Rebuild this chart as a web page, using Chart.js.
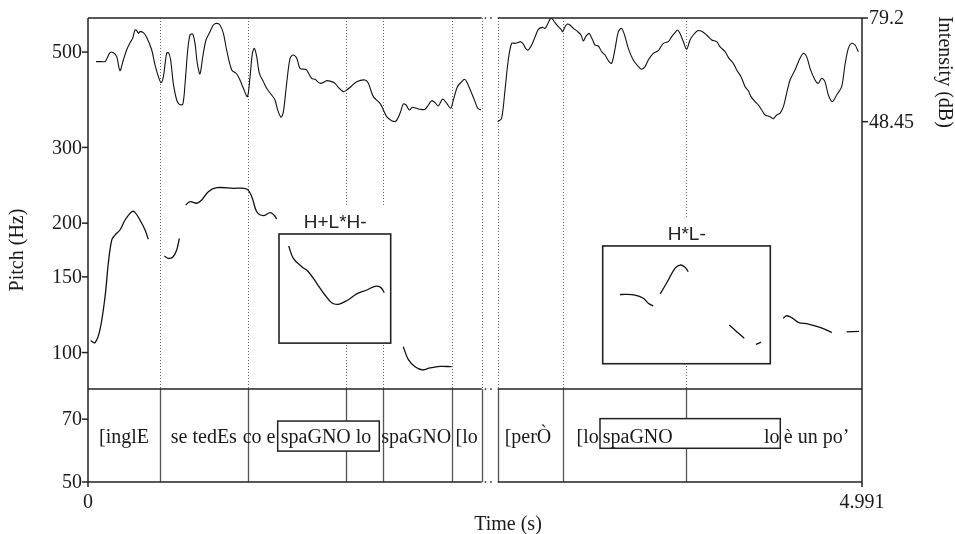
<!DOCTYPE html>
<html>
<head>
<meta charset="utf-8">
<script src="https://cdn.jsdelivr.net/npm/chart.js@4.4.1/dist/chart.umd.min.js"></script>
<style>
  html, body { margin: 0; padding: 0; background: #fff; }
</style>
</head>
<body>
<canvas id="chart" width="955" height="534"></canvas>
<script>
// Pitch track (s, Hz); null separates voiced stretches
const pitchTime = [
  0.017, 0.045, 0.077, 0.110, 0.131, 0.153, 0.174, 0.206, 0.239, 0.282, 0.303, 0.335, 0.368, 0.389, null,
  0.492, 0.518, 0.546, 0.572, 0.589, null,
  0.630, 0.658, 0.701, 0.733, 0.776, 0.830, 0.937, 1.023, 1.056, 1.088, 1.130, 1.174, 1.199, 1.217, null,
  1.294, 1.324, 1.378, 1.421, 1.475, 1.528, 1.571, 1.614, 1.668, 1.733, 1.797, 1.851, 1.887, 1.911, null,
  2.033, 2.065, 2.109, 2.158, 2.205, 2.270, 2.345, null,
  3.430, 3.463, 3.527, 3.581, 3.613, 3.645, null,
  3.690, 3.742, 3.785, 3.817, 3.850, 3.871, null,
  4.135, 4.183, 4.232, null,
  4.307, 4.340, null,
  4.483, 4.505, 4.538, 4.580, 4.645, 4.720, 4.796, null,
  4.892, 4.972
];
const pitchHz = [
  106.6, 105.4, 112.9, 134.9, 161.3, 182.7, 187.6, 192.8, 203.4, 212.6, 211.9, 203.4, 192.8, 183.4, null,
  167.7, 165.6, 166.6, 173.2, 184.4, null,
  220.5, 224.4, 222.5, 226.4, 236.7, 241.8, 241.0, 240.1, 230.4, 212.6, 208.2, 211.5, 208.9, 204.5, null,
  177.0, 165.6, 158.4, 154.2, 144.9, 136.1, 130.6, 129.5, 132.0, 136.9, 139.8, 142.6, 141.8, 137.8, null,
  103.2, 96.4, 92.7, 91.1, 92.1, 92.9, 92.7, null,
  136.4, 136.6, 136.1, 133.8, 130.2, 128.3, null,
  136.9, 147.5, 157.0, 159.8, 157.9, 154.2, null,
  115.9, 111.8, 107.9, null,
  104.5, 105.7, null,
  120.2, 121.8, 120.6, 117.6, 116.5, 114.5, 111.3, null,
  111.7, 112.0
];

// Intensity contour (s, dB)
const intensityTime = [
  0.052, 0.088, 0.110, 0.120, 0.142, 0.163, 0.185, 0.206, 0.228, 0.249, 0.271, 0.288, 0.303, 0.314, 0.325, 0.335,
  0.357, 0.378, 0.411, 0.432, 0.454, 0.471, 0.486, 0.507, 0.520, 0.533, 0.550, 0.572, 0.589, 0.611, 0.626, 0.643,
  0.658, 0.675, 0.690, 0.705, 0.722, 0.740, 0.761, 0.787, 0.808, 0.830, 0.851, 0.873, 0.894, 0.927, 0.959, 0.980,
  1.002, 1.028, 1.045, 1.060, 1.073, 1.088, 1.105, 1.131, 1.152, 1.184, 1.206, 1.223, 1.245, 1.260, 1.281, 1.303,
  1.324, 1.346, 1.367, 1.399, 1.410, 1.442, 1.464, 1.496, 1.528, 1.539, 1.571, 1.593, 1.614, 1.647, 1.668, 1.700,
  1.733, 1.786, 1.808, 1.840, 1.883, 1.905, 1.926, 1.958, 1.986, 2.012, 2.033, 2.051, 2.072, 2.092, 2.119, 2.141,
  2.173, 2.195, 2.216, 2.238, 2.259, 2.287, 2.313, 2.339, 2.356, 2.382, 2.410, 2.427, 2.442, 2.474, 2.496, 2.513,
  2.534, null,
  2.642, 2.667, 2.689, 2.710, 2.732, 2.753, 2.771, 2.790, 2.807, 2.822, 2.839, 2.861, 2.882, 2.904, 2.930, 2.947,
  2.964, 2.979, 2.990, 3.011, 3.033, 3.050, 3.061, 3.076, 3.091, 3.108, 3.130, 3.158, 3.179, 3.194, 3.209, 3.231,
  3.244, 3.259, 3.269, 3.291, 3.312, 3.334, 3.360, 3.377, 3.398, 3.420, 3.441, 3.463, 3.484, 3.516, 3.549, 3.570,
  3.592, 3.613, 3.645, 3.678, 3.710, 3.742, 3.764, 3.785, 3.802, 3.817, 3.839, 3.860, 3.882, 3.903, 3.931, 3.957,
  3.989, 4.022, 4.054, 4.075, 4.108, 4.133, 4.161, 4.183, 4.211, 4.237, 4.258, 4.275, 4.301, 4.323, 4.344, 4.366,
  4.398, 4.419, 4.441, 4.462, 4.484, 4.505, 4.527, 4.559, 4.591, 4.613, 4.634, 4.656, 4.688, 4.709, 4.731, 4.752,
  4.774, 4.800, 4.828, 4.860, 4.881, 4.903, 4.924, 4.946, 4.967
];
const intensityDb = [
  66.25, 66.25, 66.25, 66.94, 68.92, 68.92, 67.74, 63.58, 66.75, 69.71, 71.89, 73.17, 75.64, 75.44, 74.65, 75.15,
  74.85, 73.47, 69.71, 65.27, 61.81, 60.03, 61.81, 68.72, 68.92, 66.75, 59.83, 54.89, 53.60, 53.60, 59.83, 69.71,
  74.16, 74.46, 71.69, 65.76, 62.60, 67.74, 72.68, 75.15, 77.12, 77.62, 77.12, 74.65, 69.71, 63.78, 62.60, 60.82,
  58.35, 55.88, 61.81, 68.72, 70.21, 67.74, 62.79, 60.33, 58.35, 56.37, 54.89, 51.92, 49.75, 51.43, 59.83, 67.24,
  68.23, 67.24, 64.28, 63.98, 63.78, 61.31, 61.02, 59.83, 60.33, 60.62, 60.33, 59.83, 58.64, 57.36, 57.85, 59.04,
  60.33, 60.82, 59.83, 55.88, 53.90, 51.92, 49.95, 48.76, 48.66, 50.94, 53.70, 53.40, 51.92, 52.71, 52.42, 52.12,
  52.12, 53.40, 54.69, 54.10, 53.11, 55.18, 53.90, 52.42, 54.89, 58.84, 60.33, 61.02, 60.33, 56.87, 54.40, 52.42,
  51.92, null,
  48.46, 49.45, 57.85, 66.75, 71.69, 71.69, 71.89, 72.18, 71.49, 70.21, 69.71, 71.19, 73.47, 75.84, 76.43, 76.14,
  77.42, 78.81, 79.10, 77.82, 76.63, 75.84, 75.15, 76.63, 77.42, 77.12, 76.14, 75.15, 74.16, 72.38, 73.67, 74.65,
  73.67, 72.18, 71.19, 70.90, 69.22, 68.23, 66.25, 65.76, 69.91, 75.15, 76.14, 73.67, 70.21, 66.75, 64.77, 63.98,
  64.77, 66.75, 68.72, 69.52, 71.69, 72.18, 73.67, 74.85, 75.64, 74.65, 72.18, 69.91, 72.68, 74.16, 75.44, 75.25,
  74.16, 72.68, 72.18, 70.70, 69.22, 67.24, 65.76, 63.78, 61.81, 58.84, 57.66, 55.88, 54.40, 53.40, 51.92, 50.44,
  49.95, 49.35, 50.44, 50.94, 52.91, 56.87, 60.82, 63.78, 67.24, 68.72, 67.74, 64.28, 60.82, 59.83, 61.31, 60.33,
  56.37, 54.40, 56.37, 58.84, 65.27, 70.21, 71.69, 71.19, 69.22
];

// Axis ticks
const pitchTicks = [50, 70, 100, 150, 200, 300, 500];
const intensityTicks = [48.45, 79.2];
const timeTicks = [0, 4.991];
const timeTickLabels = ['0', '4.991'];

// Text grid: interval boundaries (s), labels and their centres
const boundaries = [0.4643, 1.0298, 1.6617, 1.9003, 2.3472, 2.5387, 2.6419, 3.0610, 3.8580];
const breakStart = 2.5387, breakEnd = 2.6419;
const tierTopHz = 82.3;
const tierLabels = ['[inglE', 'se tedEs', 'co e', 'spaGNO lo', 'spaGNO', '[lo', '[perÒ', '[lo', 'spaGNO', 'lo', 'è un po’'];
const tierLabelTime = [0.232, 0.747, 1.103, 1.535, 2.116, 2.442, 2.837, 3.222, 3.545, 4.409, 4.698];
const tierBoxes = [[1.2232, 1.8783, 69.3, 59.0], [3.3015, 4.4641, 70.2, 59.9]];

// Tone annotations: label, label time, box [t0, t1, hzTop, hzBottom], top of white backing
const toneLabels = ['H+L*H-', 'H*L-'];
const toneLabelTime = [1.594, 3.861];
const toneLabelHz = [194.5, 182.7];
const toneBoxes = [[1.2316, 1.9519, 188.7, 105.2], [3.3189, 4.3997, 177.0, 94.2]];
const toneBackTopHz = [220.5, 205.6];

function toPoints(xs, ys) {
    return xs.map((t, i) => ({ x: t, y: ys[i] }));
}

function seg(ctx, x0, y0, x1, y1) {
    ctx.beginPath();
    ctx.moveTo(x0, y0);
    ctx.lineTo(x1, y1);
    ctx.stroke();
}

// Praat-style frame, grid and annotations
const praatDecor = {
    id: 'praatDecor',
    beforeDatasetsDraw(chart) {
        const { ctx, chartArea: a, scales: { x, y } } = chart;
        const tierY = y.getPixelForValue(tierTopHz);
        ctx.save();
        // dotted boundaries over the pitch panel
        ctx.strokeStyle = '#666';
        ctx.lineWidth = 1;
        ctx.setLineDash([1, 2]);
        boundaries.forEach(t => {
            const px = Math.round(x.getPixelForValue(t)) + 0.5;
            seg(ctx, px, a.top, px, tierY);
        });
        ctx.setLineDash([]);
        // tone annotation boxes
        toneBoxes.forEach((b, i) => {
            const x0 = x.getPixelForValue(b[0]), x1 = x.getPixelForValue(b[1]);
            const yTop = y.getPixelForValue(b[2]), yBot = y.getPixelForValue(b[3]);
            const yBack = y.getPixelForValue(toneBackTopHz[i]);
            ctx.fillStyle = '#fff';
            ctx.fillRect(x0, yBack, x1 - x0, yBot - yBack);
            ctx.strokeStyle = '#222';
            ctx.lineWidth = 1.6;
            ctx.strokeRect(x0, yTop, x1 - x0, yBot - yTop);
            ctx.fillStyle = '#222';
            ctx.font = '19px "Liberation Sans", Arial, sans-serif';
            ctx.textAlign = 'center';
            ctx.textBaseline = 'alphabetic';
            ctx.fillText(toneLabels[i], x.getPixelForValue(toneLabelTime[i]), y.getPixelForValue(toneLabelHz[i]));
        });
        ctx.restore();
    },
    afterDatasetsDraw(chart) {
        const { ctx, chartArea: a, scales: { x, y, y2 } } = chart;
        const tierY = y.getPixelForValue(tierTopHz);
        const gx0 = x.getPixelForValue(breakStart), gx1 = x.getPixelForValue(breakEnd);
        ctx.save();
        // tier boundaries
        ctx.strokeStyle = '#555';
        ctx.lineWidth = 1.3;
        boundaries.forEach(t => {
            const px = Math.round(x.getPixelForValue(t)) + 0.5;
            seg(ctx, px, tierY, px, a.bottom);
        });
        // boxes around words in the tier
        tierBoxes.forEach(b => {
            const x0 = x.getPixelForValue(b[0]), x1 = x.getPixelForValue(b[1]);
            const y0 = y.getPixelForValue(b[2]), y1 = y.getPixelForValue(b[3]);
            ctx.fillStyle = '#fff';
            ctx.fillRect(x0, y0, x1 - x0, y1 - y0);
            ctx.strokeStyle = '#222';
            ctx.lineWidth = 1.5;
            ctx.strokeRect(x0, y0, x1 - x0, y1 - y0);
        });
        ctx.fillStyle = '#1a1a1a';
        ctx.font = '20px "Liberation Serif", "Times New Roman", serif';
        ctx.textAlign = 'center';
        ctx.textBaseline = 'alphabetic';
        const textY = y.getPixelForValue(61.6);
        tierLabels.forEach((s, i) => ctx.fillText(s, x.getPixelForValue(tierLabelTime[i]), textY));

        // frame: horizontal rules broken at the splice
        ctx.strokeStyle = '#222';
        ctx.lineWidth = 1.5;
        [a.top, tierY, a.bottom].forEach(py => {
            seg(ctx, a.left, py, gx0, py);
            seg(ctx, gx1, py, a.right, py);
            ctx.setLineDash([1.5, 4]);
            seg(ctx, gx0 + 3, py, gx1 - 2, py);
            ctx.setLineDash([]);
        });
        seg(ctx, a.left, a.top, a.left, a.bottom);
        seg(ctx, a.right, a.top, a.right, a.bottom);

        // left pitch axis
        ctx.font = '20px "Liberation Serif", "Times New Roman", serif';
        ctx.textAlign = 'right';
        ctx.textBaseline = 'middle';
        pitchTicks.forEach(v => {
            const py = y.getPixelForValue(v);
            seg(ctx, a.left - 6, py, a.left, py);
            ctx.fillText(String(v), a.left - 6, py + 1);
        });
        // right intensity axis
        ctx.textAlign = 'left';
        intensityTicks.forEach(v => {
            const py = y2.getPixelForValue(v);
            seg(ctx, a.right, py, a.right + 6, py);
            ctx.fillText(String(v), a.right + 7, py + 1);
        });
        // time axis
        ctx.textAlign = 'center';
        ctx.textBaseline = 'alphabetic';
        timeTicks.forEach((v, i) => {
            const px = x.getPixelForValue(v);
            seg(ctx, px, a.bottom, px, a.bottom + 5);
            ctx.fillText(timeTickLabels[i], px, a.bottom + 26);
        });
        ctx.fillText('Time (s)', 508, 530);

        // axis titles
        ctx.save();
        ctx.translate(18, 250);
        ctx.rotate(-Math.PI / 2);
        ctx.textBaseline = 'middle';
        ctx.fillText('Pitch (Hz)', 0, 0);
        ctx.restore();
        ctx.save();
        ctx.translate(944, 72);
        ctx.rotate(Math.PI / 2);
        ctx.textBaseline = 'middle';
        ctx.fillText('Intensity (dB)', 0, 0);
        ctx.restore();
        ctx.restore();
    }
};

new Chart(document.getElementById('chart').getContext('2d'), {
    type: 'line',
    data: {
        datasets: [
            {
                label: 'Pitch',
                data: toPoints(pitchTime, pitchHz),
                yAxisID: 'y',
                borderColor: '#111',
                borderWidth: 1.3,
                pointRadius: 0,
                tension: 0.35,
                spanGaps: false
            },
            {
                label: 'Intensity',
                data: toPoints(intensityTime, intensityDb),
                yAxisID: 'y2',
                borderColor: '#111',
                borderWidth: 1.1,
                pointRadius: 0,
                tension: 0.3,
                spanGaps: false
            }
        ]
    },
    options: {
        responsive: false,
        animation: false,
        events: [],
        layout: { padding: { left: 88, right: 93, top: 18, bottom: 52 } },
        plugins: { legend: { display: false }, tooltip: { enabled: false } },
        scales: {
            x: { type: 'linear', min: 0, max: 4.991, bounds: 'data', display: false },
            y: { type: 'logarithmic', min: 50, max: 600, bounds: 'data', display: false },
            y2: { type: 'linear', min: -58.4, max: 79.2, bounds: 'data', display: false }
        }
    },
    plugins: [praatDecor]
});
</script>
</body>
</html>
